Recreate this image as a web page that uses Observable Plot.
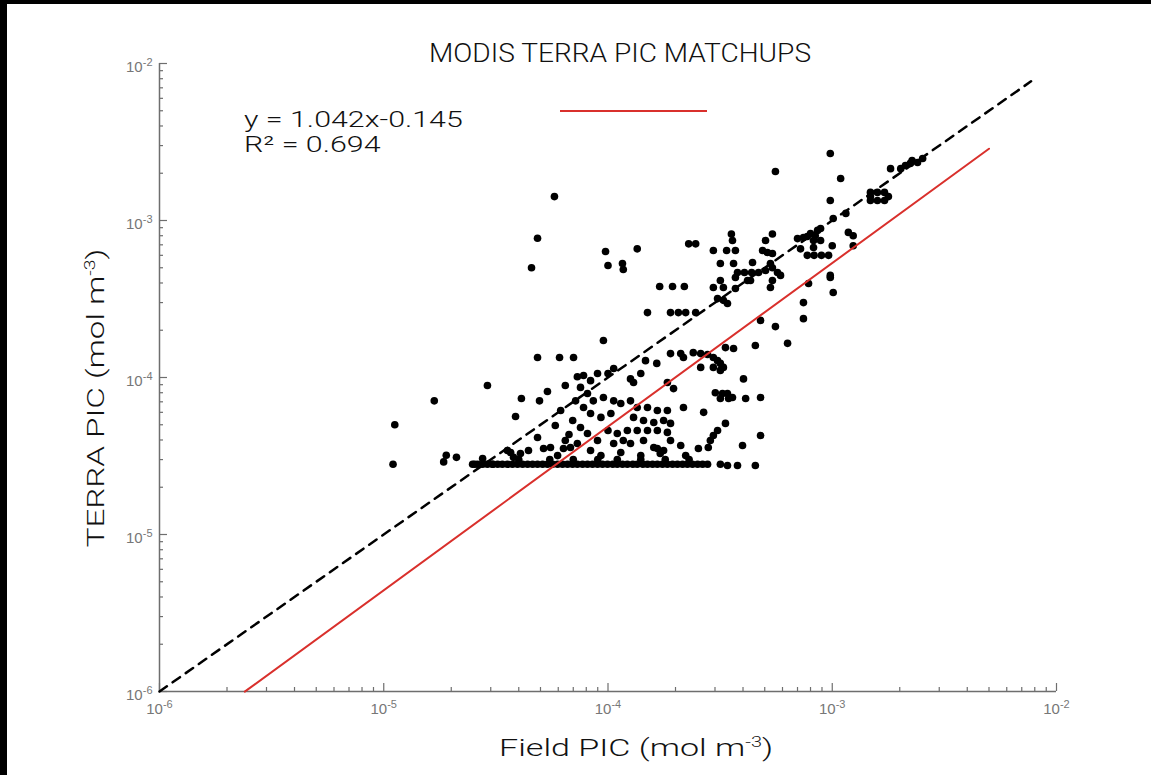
<!DOCTYPE html>
<html><head><meta charset="utf-8">
<script src="https://cdn.jsdelivr.net/npm/d3@7"></script>
<script src="https://cdn.jsdelivr.net/npm/@observablehq/plot@0.6"></script>
<style>
body{margin:0;background:#fff;}
#wrap{position:relative;width:1151px;height:775px;overflow:hidden;background:#fff;font-family:Roboto,"Liberation Sans",Arial,sans-serif;}
#wrap svg{position:absolute;left:0;top:0;}
.t{position:absolute;white-space:nowrap;color:#111;line-height:1;font-weight:300;}
.t sup{font-size:14px;line-height:0;vertical-align:9px;}
.bar{position:absolute;background:#000;}
</style></head><body>
<div id="wrap">
  <div class="t" id="title" style="left:429px;top:40px;font-size:26px;transform:scaleX(1.08);transform-origin:0 0;">MODIS TERRA PIC MATCHUPS</div>
  <div class="t" style="left:244px;top:108.5px;font-size:22px;transform:scaleX(1.38);transform-origin:0 0;">y = 1.042x-0.145</div>
  <div class="t" style="left:244px;top:134px;font-size:22px;transform:scaleX(1.38);transform-origin:0 0;">R² = 0.694</div>
  <div style="position:absolute;left:560px;top:110px;width:147px;height:2px;background:#d9302c;"></div>
  <div class="t" style="left:636px;top:736px;font-size:24px;transform:translateX(-50%) scaleX(1.42);">Field PIC (mol m<sup>-3</sup>)</div>
  <div class="t" style="left:96px;top:398px;font-size:24px;transform:translate(-50%,-50%) rotate(-90deg) scaleX(1.38);">TERRA PIC (mol m<sup>-3</sup>)</div>
  <div class="bar" style="left:0;top:0;width:1151px;height:4px;"></div>
  <div class="bar" style="left:0;top:0;width:7px;height:775px;"></div>
</div>
<script>
// ---- data (mol m^-3) ----
const fieldPIC = [
  1.1e-5,1.12e-5,1.68e-5,1.85e-5,1.9e-5,2.11e-5,2.54e-5,2.76e-5,2.9e-5,3.06e-5,
  3.68e-5,3.79e-5,3.87e-5,4.11e-5,4.85e-5,4.95e-5,5.37e-5,4.85e-5,6.08e-5,7.02e-5,
  7.3e-5,6.7e-5,4.85e-5,4.56e-5,5.77e-5,3.56e-5,4.07e-5,4.42e-5,5.16e-5,5.54e-5,
  6.33e-5,6.8e-5,7.3e-5,3.55e-4,3.59e-4,5.41e-4,5.04e-4,7.0e-4,7.44e-4,8.0e-4,
  8.25e-4,8.6e-4,8.87e-4,8.87e-4,8.25e-4,7.22e-4,7.74e-4,8.4e-4,7.74e-4,8.3e-4,
  8.95e-4,9.63e-4,1.0e-3,1.18e-3,1.24e-3,1.24e-3,2.29e-4,2.46e-4,2.95e-4,3.38e-4,
  3.7e-4,4.89e-4,5.14e-4,5.41e-4,9.75e-5,1.35e-4,1.0e-4,1.16e-4,1.17e-4,3.17e-4,
  3.63e-4,4.41e-4,3.78e-4,4.06e-4,4.37e-4,4.69e-4,5.04e-4,5.3e-4,5.41e-4,5.7e-4,
  5.88e-4,3.7e-4,4.19e-4,4.32e-4,5.41e-4,7.84e-4,9.8e-4,1.01e-3,3.17e-4,2.95e-4,
  3.27e-4,3.7e-4,5.3e-4,1.7e-4,1.94e-4,2.19e-4,3.08e-4,3.27e-4,3.41e-4,1.5e-4,
  1.9e-4,2.06e-4,2.22e-4,2.46e-4,7.44e-4,7.44e-4,4.79e-4,5.58e-4,9.54e-5,3.34e-4,
  3.63e-4,4.54e-4,6.32e-4,1.9e-4,2.11e-4,2.17e-4,2.4e-4,2.59e-4,2.78e-4,2.95e-4,
  3.08e-4,2.95e-4,3.17e-4,3.27e-4,3.17e-4,2.59e-4,1.47e-4,1.65e-4,1.84e-4,1.96e-4,
  1.4e-4,1.26e-4,1.3e-4,4.02e-4,3.01e-4,3.24e-4,3.41e-4,3.59e-4,3.17e-4,3.45e-4,
  4.11e-4,4.79e-4,2.17e-4,2.67e-4,3.34e-4,3.08e-4,2.95e-4,2.86e-4,2.8e-4,4.79e-4,
  3.98e-4,2.53e-4,2.11e-4,1.66e-4,1.71e-4,3.17e-4,3.41e-4,3.78e-4,4.54e-4,7.78e-5,
  8.36e-5,8.98e-5,1.0e-4,1.06e-4,7.54e-5,8.1e-5,8.6e-5,9.54e-5,1.06e-4,1.14e-4,
  1.26e-4,1.35e-4,1.5e-4,1.66e-4,1.84e-4,7.78e-5,8.36e-5,9.3e-5,1.03e-4,1.3e-4,
  1.44e-4,1.6e-4,1.77e-4,1.9e-4,7.54e-5,8.1e-5,8.98e-5,1.0e-4,1.1e-4,1.22e-4,
  1.35e-4,1.5e-4,1.66e-4,1.84e-4,1.06e-4,1.17e-4,1.26e-4,1.44e-4,1.6e-4,1.77e-4,
  1.9e-4,6.45e-5,6.15e-5,6.96e-5,6.45e-5,5.82e-5,7.17e-5,5.96e-5,8.36e-5,9.3e-5,
  1.4e-4,2.22e-4,1.14e-4,9.8e-4,1.09e-3,9.8e-4,5.58e-4,1.82e-3,2.02e-3,2.12e-3,
  2.23e-3,2.4e-3,2.53e-3,2.27e-3,1.48e-3,1.59e-3,1.71e-3,1.48e-3,1.59e-3,1.71e-3,
  1.48e-3,1.78e-3,1.15e-3,1.01e-3,9.8e-4,
  // detection-floor band
  2.49e-5,2.62e-5,2.76e-5,2.9e-5,3.06e-5,3.22e-5,3.38e-5,3.56e-5,3.75e-5,3.95e-5,
  4.16e-5,4.38e-5,4.61e-5,4.85e-5,5.11e-5,5.37e-5,5.66e-5,5.96e-5,6.27e-5,6.6e-5,
  6.95e-5,7.3e-5,7.7e-5,8.1e-5,8.53e-5,8.98e-5,9.45e-5,9.95e-5,1.05e-4,1.1e-4,
  1.16e-4,1.22e-4,1.29e-4,1.35e-4,1.43e-4,1.5e-4,1.58e-4,1.66e-4,1.75e-4,1.84e-4,
  1.94e-4,2.04e-4,2.15e-4,2.26e-4,2.38e-4,2.51e-4,2.64e-4,2.78e-4,
  4.0e-5,5.5e-5,7.0e-5,9.0e-5,1.1e-4,1.4e-4,1.8e-4,2.3e-4
];
const terraPIC = [
  2.8e-5,5.0e-5,7.1e-5,2.9e-5,3.2e-5,3.1e-5,2.8e-5,3.05e-5,8.9e-5,2.8e-5,
  3.33e-5,3.1e-5,5.65e-5,7.35e-5,4.15e-5,7.1e-5,8.15e-5,1.34e-4,1.34e-4,1.34e-4,
  1.01e-4,4.33e-5,7.7e-4,5.0e-4,1.42e-3,3.43e-5,3.28e-5,3.43e-5,3.53e-5,3.58e-5,
  3.53e-5,3.58e-5,3.8e-5,8.2e-4,7.46e-4,8.2e-4,7.46e-4,7.67e-4,7.79e-4,8.26e-4,
  7.46e-4,8.65e-4,8.9e-4,7.46e-4,6.73e-4,6.6e-4,7.9e-4,8.0e-4,6.0e-4,6.0e-4,
  6.0e-4,6.0e-4,6.9e-4,8.4e-4,8.0e-4,6.9e-4,7.1e-4,7.1e-4,6.44e-4,6.44e-4,
  6.44e-4,6.44e-4,6.25e-4,6.16e-4,6.34e-4,6.6e-4,5.17e-4,5.32e-4,4.87e-4,5.32e-4,
  5.32e-4,5.4e-4,4.66e-4,4.66e-4,4.66e-4,4.66e-4,4.8e-4,5.32e-4,5.0e-4,4.66e-4,
  4.47e-4,4.33e-4,4.15e-4,4.15e-4,4.15e-4,3.97e-4,4.33e-4,3.48e-4,4.15e-4,3.74e-4,
  3.74e-4,3.69e-4,3.74e-4,3.8e-4,3.8e-4,3.8e-4,3.18e-4,3.1e-4,2.96e-4,2.59e-4,
  2.59e-4,2.59e-4,2.59e-4,2.59e-4,3.0e-4,2.37e-4,2.31e-4,2.11e-4,1.72e-4,1.55e-4,
  1.53e-4,1.6e-4,1.65e-4,1.42e-4,1.42e-4,1.34e-4,1.44e-4,1.42e-4,1.4e-4,1.34e-4,
  1.28e-4,1.16e-4,1.23e-4,1.16e-4,1.11e-4,1.16e-4,1.28e-4,1.23e-4,9.3e-5,8.5e-5,
  1.06e-4,9.8e-5,9.3e-5,9.8e-5,8.0e-5,7.9e-5,7.9e-5,7.46e-5,7.35e-5,7.35e-5,
  7.35e-5,7.46e-5,6.44e-5,6.0e-5,5.1e-5,4.6e-5,4.27e-5,3.97e-5,3.58e-5,4.27e-5,
  3.69e-5,3.53e-5,3.69e-5,3.53e-5,3.28e-5,2.8e-5,2.75e-5,2.75e-5,2.75e-5,1.03e-4,
  9.55e-5,1.06e-4,1.06e-4,1.14e-4,8.65e-5,7.9e-5,7.1e-5,7.46e-5,7.1e-5,6.83e-5,
  7.1e-5,6.44e-5,6.44e-5,6.16e-5,6.16e-5,6.44e-5,5.9e-5,5.57e-5,5.9e-5,5.57e-5,
  5.32e-5,5.17e-5,5.32e-5,5.1e-5,4.8e-5,4.4e-5,3.97e-5,4.6e-5,4.4e-5,4.6e-5,
  4.6e-5,4.6e-5,4.6e-5,4.47e-5,3.8e-5,3.97e-5,3.8e-5,3.97e-5,3.58e-5,3.43e-5,
  3.97e-5,8.9e-5,6.16e-5,5.32e-5,3.97e-5,4.95e-5,7.1e-5,3.18e-5,3.43e-5,3.18e-5,
  3.18e-5,3.18e-5,3.33e-5,2.67e-3,1.85e-3,1.34e-3,2.05e-3,2.14e-3,2.14e-3,2.24e-3,
  2.31e-3,2.34e-3,2.48e-3,2.41e-3,1.51e-3,1.51e-3,1.51e-3,1.34e-3,1.34e-3,1.34e-3,
  1.42e-3,1.42e-3,1.11e-3,1.03e-3,4.47e-4,
  // detection-floor band
  2.8e-5,2.8e-5,2.8e-5,2.8e-5,2.8e-5,2.8e-5,2.8e-5,2.8e-5,2.8e-5,2.8e-5,
  2.8e-5,2.8e-5,2.8e-5,2.8e-5,2.8e-5,2.8e-5,2.8e-5,2.8e-5,2.8e-5,2.8e-5,
  2.8e-5,2.8e-5,2.8e-5,2.8e-5,2.8e-5,2.8e-5,2.8e-5,2.8e-5,2.8e-5,2.8e-5,
  2.8e-5,2.8e-5,2.8e-5,2.8e-5,2.8e-5,2.8e-5,2.8e-5,2.8e-5,2.8e-5,2.8e-5,
  2.8e-5,2.8e-5,2.8e-5,2.8e-5,2.8e-5,2.8e-5,2.8e-5,2.8e-5,
  3.0e-5,3.0e-5,3.0e-5,3.0e-5,3.0e-5,3.0e-5,3.0e-5,3.0e-5
];

// regression (log10 y = slope * log10 x + intercept) and its drawn x-extent
const fitSlope = 1.042;
const fitIntercept = -0.145;
const fitXRange = [2.4e-6, 5.0e-3];
// 1:1 reference line extent
const oneToOneRange = [1e-6, 7.7e-3];

// axis ticks
const decadeTicks = [1e-6, 1e-5, 1e-4, 1e-3, 1e-2];
const decadeExponents = ["-6", "-5", "-4", "-3", "-2"];
const minorMultipliers = [2, 3, 4, 5, 6, 7, 8, 9];

// ---- build ----
const points = fieldPIC.map((f, i) => ({field: f, terra: terraPIC[i]}));
const fitLine = fitXRange.map(x => ({x, y: Math.pow(10, fitIntercept) * Math.pow(x, fitSlope)}));
const minorTicks = decadeTicks.slice(0, -1).flatMap(d => minorMultipliers.map(m => d * m));

const axisGrey = "#6e6e6e";
const labelGrey = "#777";
const red = "#d9302c";
const labelOf = d => "10|" + decadeExponents[decadeTicks.indexOf(d)];

const plot = Plot.plot({
  width: 1151, height: 775,
  marginTop: 63, marginRight: 95, marginBottom: 84, marginLeft: 159,
  style: {background: "transparent", fontFamily: "'Liberation Sans', Arial, sans-serif", fontSize: "15px", overflow: "visible"},
  x: {type: "log", domain: [1e-6, 1e-2]},
  y: {type: "log", domain: [1e-6, 1e-2]},
  marks: [
    Plot.axisX(minorTicks, {tickSize: -4, tickFormat: () => "", stroke: axisGrey, strokeWidth: 1.2, label: null}),
    Plot.axisX(decadeTicks, {tickSize: -8, tickFormat: () => "", stroke: axisGrey, strokeWidth: 1.2, label: null}),
    Plot.axisX(decadeTicks, {tickSize: 0, tickPadding: 12, tickFormat: labelOf, fill: labelGrey, label: null}),
    Plot.axisY(minorTicks, {tickSize: -4, tickFormat: () => "", stroke: axisGrey, strokeWidth: 1.2, label: null}),
    Plot.axisY(decadeTicks, {tickSize: -8, tickFormat: () => "", stroke: axisGrey, strokeWidth: 1.2, label: null}),
    Plot.axisY(decadeTicks, {tickSize: 0, tickPadding: 7, dy: 4, tickFormat: labelOf, fill: labelGrey, label: null}),
    Plot.ruleX([decadeTicks[0]], {stroke: axisGrey, strokeWidth: 1.5}),
    Plot.ruleY([decadeTicks[0]], {stroke: axisGrey, strokeWidth: 1.5}),
    Plot.dot(points, {x: "field", y: "terra", r: 3.8, fill: "#000"}),
    Plot.line(oneToOneRange, {x: d => d, y: d => d, stroke: "#000", strokeWidth: 2.5, strokeDasharray: "9,7"}),
    Plot.line(fitLine, {x: "x", y: "y", stroke: red, strokeWidth: 2})
  ]
});
// render "10|-6" tick labels as 10 with a raised exponent, at an explicit size
plot.querySelectorAll("text").forEach(t => {
  const s = t.textContent;
  if (!s.includes("|")) return;
  const [base, exp] = s.split("|");
  t.textContent = base;
  t.style.fontSize = "15px";
  t.setAttribute("font-size", "15");
  const ts = document.createElementNS("http://www.w3.org/2000/svg", "tspan");
  ts.setAttribute("dy", "-6");
  ts.style.fontSize = "11px";
  ts.textContent = exp;
  t.appendChild(ts);
});
document.getElementById("wrap").prepend(plot);
</script>
</body></html>
